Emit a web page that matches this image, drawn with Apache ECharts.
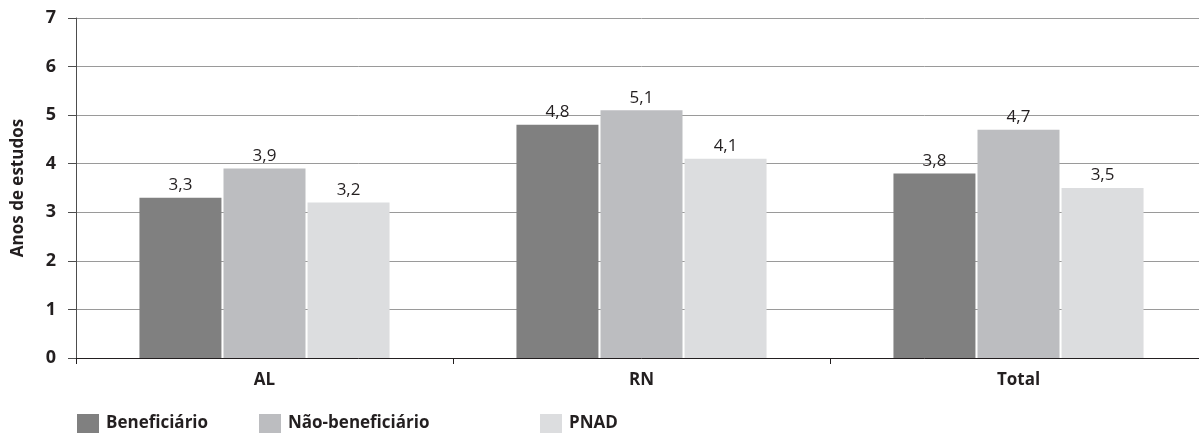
<!DOCTYPE html>
<html>
<head>
<meta charset="utf-8">
<script src="https://cdn.jsdelivr.net/npm/echarts@6/dist/echarts.min.js"></script>
<style>
  html, body { margin: 0; padding: 0; background: #fff; overflow: hidden; }
  #wrap { width: 1199px; height: 436px; overflow: hidden; }
  /* the plot runs a little past the right edge of the page */
  #chart { width: 1207px; height: 436px; }
</style>
</head>
<body>
<div id="wrap"><div id="chart"></div></div>
<script>
// Average years of schooling by state and group
const categories = ['AL', 'RN', 'Total'];
const seriesNames = ['Beneficiário', 'Não-beneficiário', 'PNAD'];
const beneficiario = [3.3, 4.8, 3.8];
const naoBeneficiario = [3.9, 5.1, 4.7];
const pnad = [3.2, 4.1, 3.5];
const yTicks = [0, 1, 2, 3, 4, 5, 6, 7];

const colors = ['#808080', '#bcbdc0', '#dcdddf'];
const textColor = '#231f20';
const fontFamily = '"Open Sans", "Noto Sans", sans-serif';

const values = [beneficiario, naoBeneficiario, pnad];
const legendLeft = [77, 259, 540];

const chart = echarts.init(document.getElementById('chart'), null, { renderer: 'canvas' });

chart.setOption({
  animation: false,
  textStyle: { fontFamily: fontFamily },
  grid: { left: 76, right: 0, top: 18, bottom: 78, containLabel: false },
  legend: seriesNames.map((name, i) => ({
    data: [name],
    left: legendLeft[i],
    top: 414,
    padding: 0,
    icon: 'rect',
    itemWidth: 22,
    itemHeight: 19,
    itemGap: 10,
    selectedMode: false,
    textStyle: { color: textColor, fontSize: 17, fontWeight: 'bold', fontFamily: fontFamily, padding: [0, 0, 0, 2] }
  })),
  xAxis: {
    type: 'category',
    data: categories,
    axisLine: { show: true, lineStyle: { color: textColor, width: 1 } },
    axisTick: { show: true, alignWithLabel: false, length: 6, lineStyle: { color: textColor } },
    axisLabel: { color: textColor, fontSize: 17, fontWeight: 'bold', margin: 14 },
    splitLine: { show: false }
  },
  yAxis: {
    type: 'value',
    min: yTicks[0],
    max: yTicks[yTicks.length - 1],
    interval: 1,
    name: 'Anos de estudos',
    nameLocation: 'middle',
    nameRotate: 90,
    nameGap: 49,
    nameTextStyle: { color: textColor, fontSize: 17, fontWeight: 'bold' },
    axisLine: { show: true, lineStyle: { color: '#4d4d4d', width: 1 } },
    axisTick: { show: true, length: 8, lineStyle: { color: '#4d4d4d' } },
    axisLabel: { color: textColor, fontSize: 18, fontWeight: 'bold', margin: 20 },
    splitLine: { show: true, lineStyle: { color: '#9a9a9a', width: 1 } }
  },
  series: seriesNames.map((name, i) => ({
    name: name,
    type: 'bar',
    data: values[i],
    barWidth: 82,
    barGap: '2.5%',
    itemStyle: { color: colors[i] },
    label: {
      show: true,
      position: 'top',
      distance: 4,
      color: textColor,
      fontSize: 17,
      formatter: p => String(p.value).replace('.', ',')
    }
  }))
});
</script>
</body>
</html>
